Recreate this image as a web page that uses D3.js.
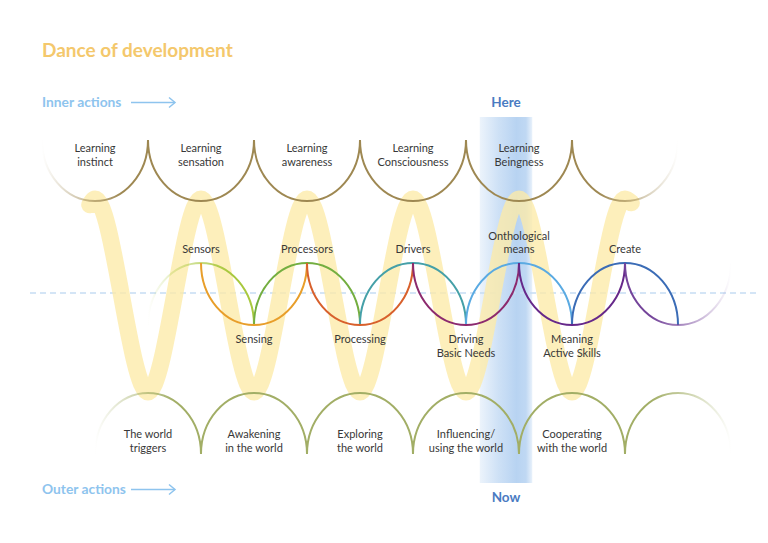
<!DOCTYPE html>
<html><head><meta charset="utf-8">
<script src="https://cdn.jsdelivr.net/npm/d3@7"></script>
<style>html,body{margin:0;padding:0;background:#fff}svg{display:block}</style>
</head><body>
<script>
// ---- data ----
const title = "Dance of development";
const innerLabel = "Inner actions";
const outerLabel = "Outer actions";
const hereLabel = "Here";
const nowLabel = "Now";
// inner (top) arcs, centre position in half-steps
const topArcPos = [1, 3, 5, 7, 9, 11];
const topArcLabels = [["Learning","instinct"],["Learning","sensation"],["Learning","awareness"],["Learning","Consciousness"],["Learning","Beingness"],[]];
// outer (bottom) arcs
const bottomArcPos = [2, 4, 6, 8, 10, 12];
const bottomArcLabels = [["The world","triggers"],["Awakening","in the world"],["Exploring","the world"],["Influencing/","using the world"],["Cooperating","with the world"],[]];
// middle chain: domes (peaks) and bowls
const domePos = [3, 5, 7, 9, 11];
const domeLabels = [["Sensors"],["Processors"],["Drivers"],["Onthological","means"],["Create"]];
const domeColors = ["#a8c83e","#74ae40","#45a0a8","#5aaae2","#3b6cb6"];
const bowlPos = [4, 6, 8, 10, 12];
const bowlLabels = [["Sensing"],["Processing"],["Driving","Basic Needs"],["Meaning","Active Skills"],[]];
const bowlColors = ["#e89e2a","#d8602c","#8c2a6e","#66288a","#74449a"];
// yellow wave: position (half-steps) and level (+1 crest, -1 trough)
const wavePos = [0.9, 1, 2, 3, 4, 5, 6, 7, 8, 9, 10, 11, 11.12];
const waveLevel = [0.94, 1, -1, 1, -1, 1, -1, 1, -1, 1, -1, 1, 0.96];
// now/here band, in half-steps
const bandRange = [8.26, 9.25];

// ---- drawing ----
const W = 768, H = 543;
const svg = d3.select("body").append("svg").attr("width", W).attr("height", H)
  .style("font-family", "Lato, 'Noto Sans', sans-serif");
const defs = svg.append("defs");

const x = d3.scaleLinear().domain([0, 13]).range([42, 731]);
const rx = x(1) - x(0);
const yWave = d3.scaleLinear().domain([-1, 1]).range([392, 199]);

const topCY = 140, topRY = 61;
const midTop = 263, midBot = 325;
const botCY = 454, botRY = 61;
const lineGap = 13.5;

function fadeGrad(id, x1, x2, color, dir) {
  const g = defs.append("linearGradient").attr("id", id)
    .attr("gradientUnits", "userSpaceOnUse").attr("x1", x1).attr("x2", x2).attr("y1", 0).attr("y2", 0);
  if (dir === "left") {
    g.append("stop").attr("offset", 0).attr("stop-color", color).attr("stop-opacity", 0);
    g.append("stop").attr("offset", 0.75).attr("stop-color", color).attr("stop-opacity", 1);
  } else {
    g.append("stop").attr("offset", 0.25).attr("stop-color", color).attr("stop-opacity", 1);
    g.append("stop").attr("offset", 1).attr("stop-color", color).attr("stop-opacity", 0);
  }
  return "url(#" + id + ")";
}
function halfEllipse(cx, cy, rY, lower) {
  return `M${cx - rx},${cy} A${rx},${rY} 0 0 ${lower ? 0 : 1} ${cx + rx},${cy}`;
}

// band
const bg = defs.append("linearGradient").attr("id", "band").attr("x1", 0).attr("x2", 1).attr("y1", 0).attr("y2", 0);
[[0, 0.25], [0.35, 0.65], [0.7, 0.95], [0.88, 0.85], [1, 0.3]].forEach(s =>
  bg.append("stop").attr("offset", s[0]).attr("stop-color", "#b4d1f1").attr("stop-opacity", s[1]));
svg.append("rect").attr("x", x(bandRange[0])).attr("width", x(bandRange[1]) - x(bandRange[0]))
  .attr("y", 117).attr("height", 366).attr("fill", "url(#band)");

// dashed centre line
svg.append("line").attr("x1", 30).attr("x2", 756).attr("y1", 293).attr("y2", 293)
  .attr("stroke", "#c6ddf4").attr("stroke-width", 1.5).attr("stroke-dasharray", "6,4");

// wave
const waveLine = d3.line().x((d, i) => x(wavePos[i])).y(d => yWave(d)).curve(d3.curveMonotoneX);
svg.append("path").attr("d", waveLine(waveLevel)).attr("fill", "none")
  .attr("stroke", "#fdeaa8").attr("stroke-opacity", 0.78).attr("stroke-width", 17).attr("stroke-linecap", "round");

// top arcs
const gold = "#9e8852";
topArcPos.forEach((p, i) => {
  const cx = x(p);
  let stroke = gold;
  if (i === 0) stroke = fadeGrad("tg0", cx - rx, cx + rx, gold, "left");
  if (i === topArcPos.length - 1) stroke = fadeGrad("tg1", cx - rx, cx + rx, gold, "right");
  svg.append("path").attr("d", halfEllipse(cx, topCY, topRY, true)).attr("fill", "none")
    .attr("stroke", stroke).attr("stroke-width", 2);
});
// bottom arcs
const olive = "#a2ae66";
bottomArcPos.forEach((p, i) => {
  const cx = x(p);
  let stroke = olive;
  if (i === 0) stroke = fadeGrad("bg0", cx - rx, cx + rx, olive, "left");
  if (i === bottomArcPos.length - 1) stroke = fadeGrad("bg1", cx - rx, cx + rx, olive, "right");
  svg.append("path").attr("d", halfEllipse(cx, botCY, botRY, false)).attr("fill", "none")
    .attr("stroke", stroke).attr("stroke-width", 2);
});
// middle domes and bowls
domePos.forEach((p, i) => {
  const cx = x(p);
  let stroke = domeColors[i];
  if (i === 0) stroke = fadeGrad("dg0", cx - rx, cx + rx, domeColors[i], "left");
  svg.append("path").attr("d", halfEllipse(cx, midBot, midBot - midTop, false)).attr("fill", "none")
    .attr("stroke", stroke).attr("stroke-width", 2);
});
bowlPos.forEach((p, i) => {
  const cx = x(p);
  let stroke = bowlColors[i];
  if (i === bowlPos.length - 1) stroke = fadeGrad("wg1", cx - rx, cx + rx, bowlColors[i], "right");
  svg.append("path").attr("d", halfEllipse(cx, midTop, midBot - midTop, true)).attr("fill", "none")
    .attr("stroke", stroke).attr("stroke-width", 2);
});

// labels
function upText(cx, lastBaseline, lines) {
  const n = lines.length;
  lines.forEach((t, j) => {
    svg.append("text").attr("x", cx).attr("y", lastBaseline - (n - 1 - j) * lineGap)
      .attr("text-anchor", "middle").attr("font-size", 11).attr("fill", "#383838").text(t);
  });
}
function downText(cx, firstBaseline, lines) {
  lines.forEach((t, j) => {
    svg.append("text").attr("x", cx).attr("y", firstBaseline + j * lineGap)
      .attr("text-anchor", "middle").attr("font-size", 11).attr("fill", "#383838").text(t);
  });
}
topArcPos.forEach((p, i) => downText(x(p), 152, topArcLabels[i]));
bottomArcPos.forEach((p, i) => downText(x(p), 438, bottomArcLabels[i]));
domePos.forEach((p, i) => upText(x(p), 253, domeLabels[i]));
bowlPos.forEach((p, i) => downText(x(p), 343, bowlLabels[i]));

// title & side labels
svg.append("text").attr("x", 42).attr("y", 57).attr("font-size", 19).attr("font-weight", 700)
  .attr("fill", "#f4c86c").text(title);
function actionLabel(yb, txt) {
  svg.append("text").attr("x", 42).attr("y", yb).attr("font-size", 13.8).attr("font-weight", 700)
    .attr("fill", "#8ec4ee").text(txt);
  const ay = yb - 4.5;
  svg.append("line").attr("x1", 131).attr("x2", 175).attr("y1", ay).attr("y2", ay)
    .attr("stroke", "#8ec4ee").attr("stroke-width", 1.5);
  svg.append("path").attr("d", `M169,${ay - 5} L175,${ay} L169,${ay + 5}`).attr("fill", "none")
    .attr("stroke", "#8ec4ee").attr("stroke-width", 1.5);
}
actionLabel(107, innerLabel);
actionLabel(494, outerLabel);

const bandMid = (x(bandRange[0]) + x(bandRange[1])) / 2;
svg.append("text").attr("x", bandMid).attr("y", 107).attr("text-anchor", "middle").attr("font-size", 13.5)
  .attr("font-weight", 700).attr("fill", "#4a7bc2").text(hereLabel);
svg.append("text").attr("x", bandMid).attr("y", 502).attr("text-anchor", "middle").attr("font-size", 13.5)
  .attr("font-weight", 700).attr("fill", "#4a7bc2").text(nowLabel);
</script>
</body></html>
